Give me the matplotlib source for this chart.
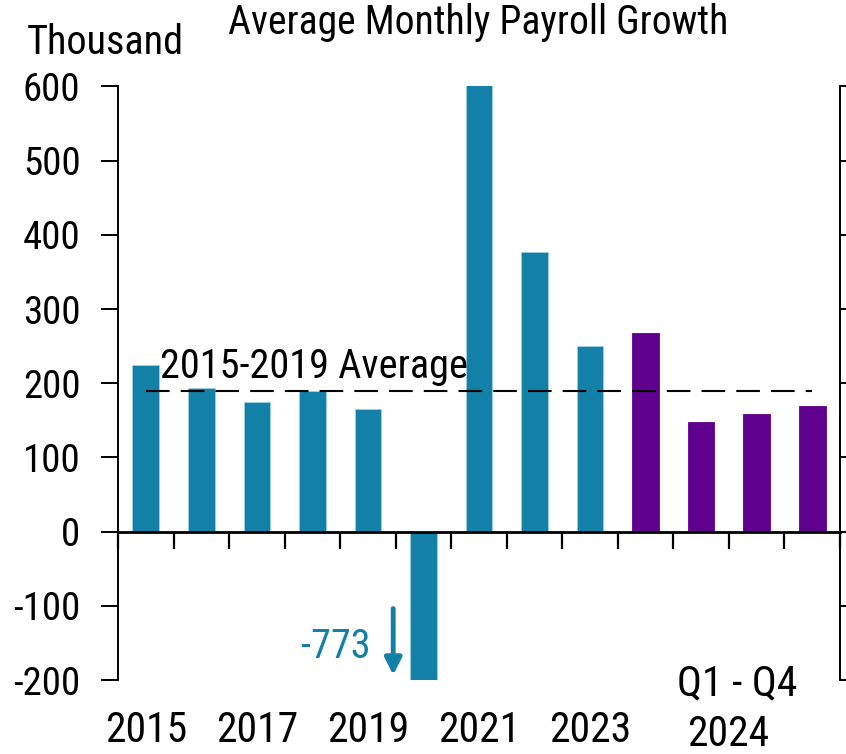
import matplotlib
matplotlib.use("Agg")
import matplotlib.pyplot as plt
import matplotlib.transforms as mtransforms

plt.rcParams['font.family'] = ['Roboto Condensed', 'Liberation Sans', 'DejaVu Sans']
plt.rcParams['lines.scale_dashes'] = False

# Data
categories = ['2015', '2016', '2017', '2018', '2019', '2020', '2021', '2022', '2023',
              '2024 Q1', '2024 Q2', '2024 Q3', '2024 Q4']
values = [225, 193, 175, 189, 165, -773, 606, 377, 250, 268, 148, 158, 170]
annual_color = '#1380A8'
quarter_color = '#5F008F'
colors = [annual_color] * 9 + [quarter_color] * 4
avg_2015_2019 = 190
xtick_labels = ['2015', '', '2017', '', '2019', '', '2021', '', '2023', '', '', '', '']
yticks = [-200, -100, 0, 100, 200, 300, 400, 500, 600]

fig = plt.figure(figsize=(8.46, 7.54), dpi=100)
ax = fig.add_axes([0.1395, 0.0981, 0.8534, 0.7872])

x = list(range(len(values)))
for xi, v, c in zip(x, values, colors):
    ec = '#9fd0e4' if c == annual_color else c
    ax.bar(xi, v, width=0.48, color=c, edgecolor=ec, linewidth=0.6, zorder=2)

ax.set_xlim(-0.5, len(values) - 0.5)
ax.set_ylim(-200, 600)

# spines
ax.spines['top'].set_visible(False)
ax.spines['bottom'].set_position(('data', 0))
ax.spines['bottom'].set_linewidth(2.0)
ax.spines['bottom'].set_zorder(3)
ax.spines['left'].set_linewidth(1.4)
ax.spines['right'].set_linewidth(1.4)

# y ticks
ax.set_yticks(yticks)
ax.set_yticklabels([str(v) for v in yticks])
ax.tick_params(axis='y', direction='out', length=12, width=1.4, labelsize=28, pad=15,
               right=True, labelright=False)

# x ticks at category boundaries
bounds = [i - 0.5 for i in range(len(values) + 1)]
ax.set_xticks(bounds)
ax.set_xticklabels([''] * len(bounds))
ax.tick_params(axis='x', direction='out', length=12, width=1.6)

trans = mtransforms.blended_transform_factory(ax.transData, fig.transFigure)
for xi, lab in zip(x, xtick_labels):
    if lab:
        ax.text(xi, 1 - 730 / 754, lab, transform=trans, ha='center', va='center', fontsize=30)
ax.text(10.64, 1 - 684 / 754, 'Q1 - Q4', transform=trans, ha='center', va='center', fontsize=30)
ax.text(10.49, 1 - 735 / 754, '2024', transform=trans, ha='center', va='center', fontsize=30)

# average line
ax.plot([0, 12], [avg_2015_2019, avg_2015_2019], color='black', lw=1.5, dashes=(17, 8), zorder=4)
ax.text(0.26, 207, '2015-2019 Average', ha='left', va='baseline', fontsize=29, zorder=5)

# annotation for 2020
ax.text(4.04, -155, '-773', ha='right', va='center', fontsize=29, color=annual_color)
ax.annotate('', xy=(4.455, -197), xytext=(4.455, -100),
            arrowprops=dict(arrowstyle='-|>,head_width=0.5,head_length=1.0',
                            color=annual_color, lw=3.5), annotation_clip=False)

# titles
fig.text(478 / 846, 1 - 23 / 754, 'Average Monthly Payroll Growth', ha='center', va='center', fontsize=28.5)
fig.text(27 / 846, 1 - 43 / 754, 'Thousand', ha='left', va='center', fontsize=29)

fig.savefig('out.png', dpi=100)
